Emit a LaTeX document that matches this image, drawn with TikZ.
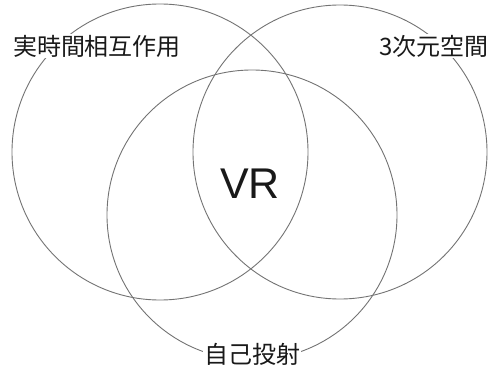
\documentclass[tikz,border=0pt]{standalone}
\usepackage{fontspec}
\setmainfont{Noto Sans CJK JP}
\newfontfamily\latinsans{Liberation Sans}
\begin{document}
\begin{tikzpicture}[x=1pt,y=-1pt,
  ring/.style={draw=black!55, line width=0.9pt},
  lab/.style={fill=white, inner sep=1pt, font=\fontsize{24}{27}\selectfont, text=black!90}]
\useasboundingbox (0,0) rectangle (496,369);
\coordinate (c1) at (160,152);
\coordinate (c2) at (340,152);
\coordinate (c3) at (252,215);
\draw[ring] (c1) circle (148);
\draw[ring] (c2) circle (147);
\draw[ring] (c3) circle (145);
\node[lab] (l1) at (97,46) {実時間相互作用};
\node[lab] (l2) at (434,46) {3次元空間};
\node[lab] (l3) at (252,354) {自己投射};
\node[font=\latinsans\fontsize{43}{48}\selectfont, text=black!90] (vr) at (250,184) {VR};
\end{tikzpicture}
\end{document}
